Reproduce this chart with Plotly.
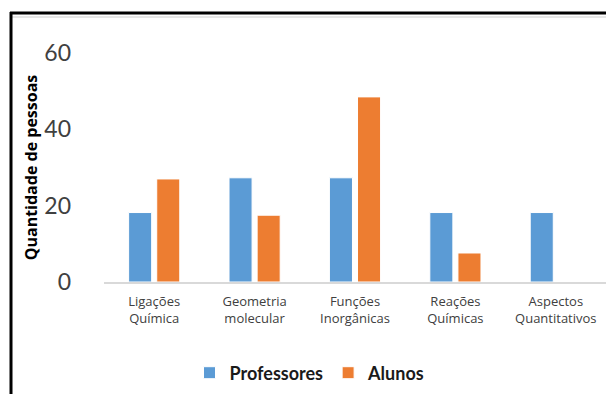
import plotly.graph_objects as go

categories = ["Ligações<br>Química", "Geometria<br>molecular", "Funções<br>Inorgânicas",
              "Reações<br>Químicas", "Aspectos<br>Quantitativos"]
professores = [18.2, 27.3, 27.3, 18.2, 18.2]
alunos = [27.0, 17.5, 48.5, 7.6, 0]
y_ticks = [0, 20, 40, 60]

W, H = 606, 394
L, R, T, B = 104, 0, 53, 112
pw, ph = W - L - R, H - T - B

def xp(px):
    return (px - L) / pw

def yp(py):
    return 1 - (py - T) / ph

fig = go.Figure()
fig.add_trace(go.Bar(name="Professores", x=categories, y=professores,
                     marker=dict(color="#5B9BD5", line=dict(color="#FFFFFF", width=1))))
fig.add_trace(go.Bar(name="Alunos", x=categories, y=alunos,
                     marker=dict(color="#ED7D31", line=dict(color="#FFFFFF", width=1))))

fig.update_layout(
    width=W, height=H,
    margin=dict(l=L, r=R, t=T, b=B, pad=0),
    paper_bgcolor="white", plot_bgcolor="white",
    barmode="group", bargap=0.44, bargroupgap=0.18,
    showlegend=True,
    legend=dict(orientation="h", x=xp(310), xanchor="center", y=yp(373), yanchor="middle",
                font=dict(family="Lato", size=18, color="#1A1A1A", weight="bold"),
                itemwidth=30, tracegroupgap=0),
    xaxis=dict(showgrid=False, showline=True, linecolor="#D9D9D9", linewidth=1.5,
               ticks="", ticklabelstandoff=7,
               tickfont=dict(family="Open Sans", size=13, color="#404040"),
               fixedrange=True),
    yaxis=dict(range=[0, 60], tickvals=y_ticks, showgrid=False, showline=False, zeroline=False,
               ticks="", ticklabelstandoff=32,
               tickfont=dict(family="Lato", size=23, color="#404040"),
               title=dict(text="Quantidade de pessoas", standoff=2,
                          font=dict(family="Open Sans", size=16, color="#000000", weight="bold")),
               fixedrange=True),
    shapes=[
        dict(type="line", xref="paper", yref="paper", x0=xp(10), x1=xp(606), y0=yp(13), y1=yp(13),
             line=dict(color="#000000", width=3)),
        dict(type="line", xref="paper", yref="paper", x0=xp(12), x1=xp(606), y0=yp(17), y1=yp(17),
             line=dict(color="#E6E6E6", width=2)),
        dict(type="line", xref="paper", yref="paper", x0=xp(11), x1=xp(11), y0=yp(12), y1=yp(400),
             line=dict(color="#000000", width=3)),
    ],
)

fig.write_html("out.html")
